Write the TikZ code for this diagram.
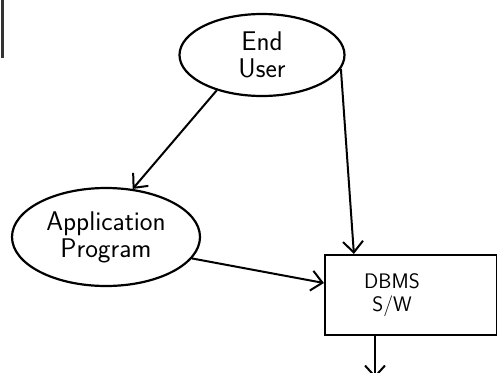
\documentclass[tikz,border=0pt]{standalone}
\usetikzlibrary{shapes.geometric,arrows.meta}
\tikzset{
    blob/.style={draw, ellipse, line width=2.2pt, inner sep=0pt, align=center,
        font=\sffamily\fontsize{27}{27}\selectfont},
    swbox/.style={draw, rectangle, line width=2.2pt, align=center,
        font=\sffamily\fontsize{21}{23}\selectfont},
    link/.style={->, line width=2pt}
}
\begin{document}
\begin{tikzpicture}[x=1pt, y=-1pt, >={Straight Barb[length=11pt, width=20pt]}]
    \useasboundingbox (0,0) rectangle (497,372);
    \draw[line width=3pt, color=black!80] (2,0) -- (2,58);
    \node[blob, minimum width=165pt, minimum height=82pt] (eu) at (262,55) {End\\User};
    \node[blob, minimum width=188pt, minimum height=98pt] (ap) at (106,237) {Application\\Program};
    \node[swbox, minimum width=172pt, minimum height=80pt] (db) at (411,295) {};
    \node[font=\sffamily\fontsize{21}{23}\selectfont, align=center] (dbtext) at (392,295) {DBMS\\S/W};
    \coordinate (next) at (375,378);
    \draw[link] (eu.218) -- (ap.61);
    \draw[link] (eu.-10) -- ([xshift=30pt]db.north west);
    \draw[link] (ap.-14) -- ([yshift=12pt]db.west);
    \draw[link] ([xshift=-36pt]db.south) -- (next);
\end{tikzpicture}
\end{document}
